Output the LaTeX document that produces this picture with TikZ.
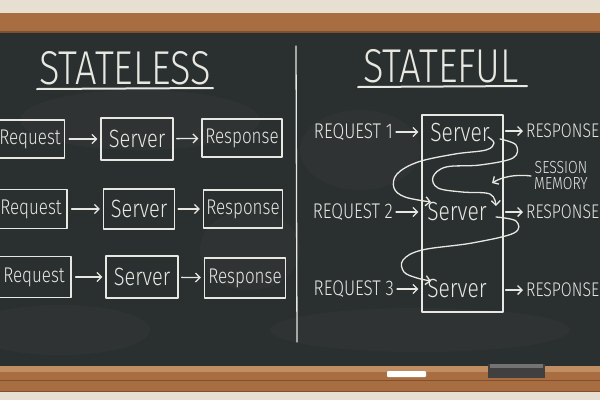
\documentclass[tikz,border=0pt]{standalone}
\usepackage{graphicx}
\usepackage{fontspec}
\setmainfont{Fira Sans Light}
\usetikzlibrary{arrows.meta}
\definecolor{board}{HTML}{2A2F2F}
\definecolor{chalk}{HTML}{E8E8E2}
\definecolor{wood}{HTML}{A86E42}
\definecolor{wooddark}{HTML}{7E5030}
\definecolor{woodlight}{HTML}{C08E62}
\definecolor{wall}{HTML}{E6DFD2}
\newcommand{\chalktall}[1]{\scalebox{1}[1.25]{#1}}
\tikzset{
  chalkline/.style={draw=chalk, line width=1.3pt, line cap=round, line join=round},
  cbox/.style={chalkline, inner sep=0pt, text=chalk},
  carrow/.style={chalkline, -{Straight Barb[length=4.5pt,width=9pt]}},
  ctext/.style={text=chalk, inner sep=0pt},
  fsmall/.style={font=\fontsize{17}{17}\selectfont},
  fserv/.style={font=\fontsize{20}{20}\selectfont},
  fcap/.style={font=\fontsize{17}{17}\selectfont},
  fresp/.style={font=\fontsize{15.8}{16}\selectfont},
  ftitle/.style={font=\fontsize{38}{38}\selectfont},
  smudge/.style={fill=white, opacity=0.025},
}
\begin{document}
\begin{tikzpicture}[x=1pt,y=-1pt]
\useasboundingbox (0,0) rectangle (600,400);
\clip (0,0) rectangle (600,400);
% wall, frame, board
\fill[wall] (0,0) rectangle (600,400);
\fill[board] (0,30) rectangle (600,368);
\fill[smudge] (140,120) ellipse (120pt and 30pt);
\fill[smudge] (60,330) ellipse (90pt and 25pt);
\fill[smudge] (420,330) ellipse (150pt and 22pt);
\fill[smudge] (360,150) ellipse (60pt and 40pt);
\fill[smudge] (250,250) ellipse (50pt and 40pt);
\fill[wood] (0,13) rectangle (600,32);
\fill[wooddark] (0,30.5) rectangle (600,32.5);
\fill[wood] (0,366) rectangle (600,392);
\fill[woodlight] (0,366) rectangle (600,372);
\fill[wooddark] (0,380) rectangle (600,381);
\fill[wooddark] (0,391) rectangle (600,392);
% chalk and eraser on the rail
\fill[white, rounded corners=1pt] (387,371) rectangle (426,377);
\fill[black!75] (488,364) rectangle (545,378);
\fill[black!55] (490,364) rectangle (543,368);

% titles
\node[ctext, ftitle] (tl) at (125,68) {\chalktall{STATELESS}};
\draw[chalkline, line width=2pt] (37,89) -- (213,88);
\node[ctext, ftitle] (tr) at (441,66) {\chalktall{STATEFUL}};
\draw[chalkline, line width=2pt] (358,87) -- (527,86);
\draw[chalkline] (296,46) -- (297,342);

% stateless rows
\node[cbox, fsmall, minimum width=69pt, minimum height=38pt] (rq1) at (30,139) {\chalktall{Request}};
\node[cbox, fserv, minimum width=72pt, minimum height=42pt] (sv1) at (137,139) {\chalktall{Server}};
\node[cbox, fsmall, minimum width=80pt, minimum height=38pt] (rs1) at (242,138) {\chalktall{Response}};
\node[cbox, fsmall, minimum width=72pt, minimum height=39pt] (rq2) at (31,209) {\chalktall{Request}};
\node[cbox, fserv, minimum width=71pt, minimum height=40pt] (sv2) at (139,209) {\chalktall{Server}};
\node[cbox, fsmall, minimum width=79pt, minimum height=38pt] (rs2) at (243,209) {\chalktall{Response}};
\node[cbox, fsmall, minimum width=74pt, minimum height=41pt] (rq3) at (34,277) {\chalktall{Request}};
\node[cbox, fserv, minimum width=72pt, minimum height=42pt] (sv3) at (142,277) {\chalktall{Server}};
\node[cbox, fsmall, minimum width=81pt, minimum height=40pt] (rs3) at (245,278) {\chalktall{Response}};
\foreach \i in {1,2,3}{
  \draw[carrow, shorten <=4pt, shorten >=3pt] (rq\i) -- (sv\i);
  \draw[carrow, shorten <=3pt, shorten >=3pt] (sv\i) -- (rs\i);
}

% stateful side
\node[chalkline, minimum width=81pt, minimum height=197pt, inner sep=0pt] (mem) at (462.5,213.5) {};
\node[ctext, font=\fontsize{21}{21}\selectfont] (s1) at (460,133) {\chalktall{Server}};
\node[ctext, font=\fontsize{21}{21}\selectfont] (s2) at (457,212) {\chalktall{Server}};
\node[ctext, font=\fontsize{21}{21}\selectfont] (s3) at (457,289) {\chalktall{Server}};
\node[ctext, fcap, anchor=east] (q1) at (393,132) {\chalktall{REQUEST 1}};
\node[ctext, fcap, anchor=east] (q2) at (393,212) {\chalktall{REQUEST 2}};
\node[ctext, fcap, anchor=east] (q3) at (394,289) {\chalktall{REQUEST 3}};
\node[ctext, fresp, anchor=west] (p1) at (526,131) {\chalktall{RESPONSE}};
\node[ctext, fresp, anchor=west] (p2) at (526,212) {\chalktall{RESPONSE}};
\node[ctext, fresp, anchor=west] (p3) at (526,290) {\chalktall{RESPONSE}};
\foreach \i in {1,2,3}{
  \draw[carrow, shorten <=3pt, shorten >=3pt] (q\i.east) -- (q\i.east -| mem.west);
  \draw[carrow, shorten <=2pt, shorten >=3pt] (mem.east |- p\i.west) -- (p\i.west);
}
\node[ctext, align=center, font=\fontsize{14}{16}\selectfont] (sm) at (561,176) {\chalktall{SESSION}\\\chalktall{MEMORY}};
\coordinate (smtip) at (492,183);
\draw[carrow] ([xshift=-3pt]sm.west) .. controls (515,174) and (502,177) .. (smtip);

% session loops
\coordinate (c1s) at (488,137);
\coordinate (c1e) at (431,202);
\draw[carrow] plot[smooth, tension=0.6] coordinates {(c1s) (494,143) (486,150) (455,154) (418,162) (397,174) (394,188) (405,197) (c1e)};
\coordinate (c2s) at (500,139);
\coordinate (c2e) at (496,206);
\draw[carrow] plot[smooth, tension=0.6] coordinates {(c2s) (516,145) (513,158) (480,165) (446,167) (433,177) (438,188) (462,192) (490,194) (c2e)};
\coordinate (c3s) at (496,217);
\coordinate (c3e) at (431,281);
\draw[carrow] plot[smooth, tension=0.6] coordinates {(c3s) (516,221) (514,233) (472,243) (422,250) (403,260) (404,272) (417,278) (c3e)};
\end{tikzpicture}
\end{document}
